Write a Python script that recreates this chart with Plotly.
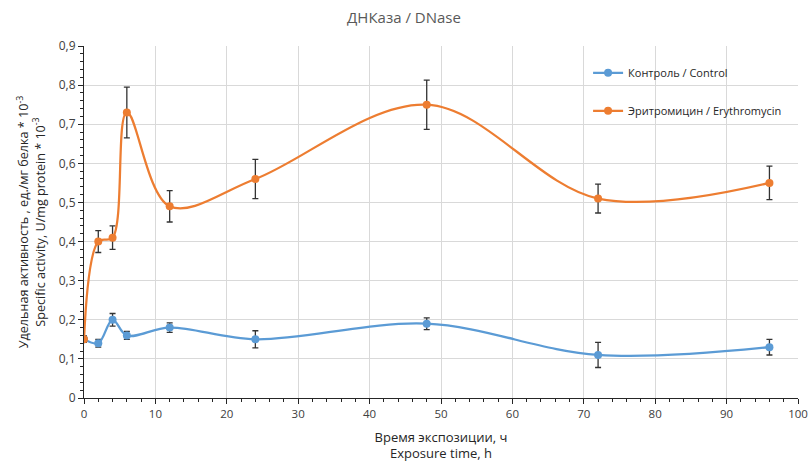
import plotly.graph_objects as go

hours = [0, 2, 4, 6, 12, 24, 48, 72, 96]
control = [0.15, 0.14, 0.20, 0.16, 0.18, 0.15, 0.19, 0.11, 0.13]
control_err = [0.008, 0.01, 0.016, 0.01, 0.012, 0.022, 0.015, 0.032, 0.02]
erythro = [0.15, 0.40, 0.41, 0.73, 0.49, 0.56, 0.75, 0.51, 0.55]
erythro_err = [0.008, 0.028, 0.03, 0.065, 0.04, 0.05, 0.063, 0.037, 0.043]
y_ticks = [0, 0.1, 0.2, 0.3, 0.4, 0.5, 0.6, 0.7, 0.8, 0.9]
y_labels = ["0", "0,1", "0,2", "0,3", "0,4", "0,5", "0,6", "0,7", "0,8", "0,9"]

FONT = "Open Sans"
fig = go.Figure()
for name, ys, err, col, grp in [
    ("Контроль / Control", control, control_err, "#5B9BD5", "a"),
    ("Эритромицин / Erythromycin", erythro, erythro_err, "#ED7D31", "b"),
]:
    fig.add_trace(go.Scatter(
        x=hours, y=ys, name=name, mode="lines+markers", legendgroup=grp,
        line=dict(color=col, width=2.25, shape="spline", smoothing=1.0),
        marker=dict(color=col, size=8),
        error_y=dict(type="data", array=err, visible=True, color="#333333", thickness=1.3, width=3),
    ))

fig.update_layout(
    width=808, height=464,
    margin=dict(l=84, r=10, t=46, b=66, autoexpand=False),
    paper_bgcolor="white", plot_bgcolor="white",
    font=dict(family=FONT, size=12, color="#404040"),
    title=dict(text="ДНКаза / DNase", x=0.5, xanchor="center", y=0.961, yanchor="middle",
               automargin=False, font=dict(family=FONT, size=15, color="#595959")),
    legend=dict(x=0.706, y=0.965, xanchor="left", yanchor="top", bgcolor="rgba(0,0,0,0)",
                traceorder="grouped", tracegroupgap=19, font=dict(family=FONT, size=11, color="#262626")),
    separators=", ",
)
fig.update_xaxes(range=[0, 100], dtick=10, showgrid=True, gridcolor="#D9D9D9", gridwidth=1,
                 showline=True, linecolor="#262626", linewidth=1.2, ticks="outside", ticklen=5,
                 tickcolor="#262626", zeroline=False, automargin=False, ticklabeloverflow="allow",
                 minor=dict(dtick=2, ticks="outside", ticklen=3, tickcolor="#262626", showgrid=False),
                 title=dict(text="Время экспозиции, ч<br>Exposure time, h", standoff=12,
                            font=dict(family=FONT, size=13, color="#262626")),
                 tickfont=dict(size=11.5, color="#404040"))
fig.update_yaxes(range=[0, 0.9], tickvals=y_ticks, ticktext=y_labels, showgrid=True,
                 gridcolor="#D9D9D9", gridwidth=1, showline=True, linecolor="#262626", linewidth=1.2,
                 ticks="outside", ticklen=5, tickcolor="#262626", zeroline=False, automargin=False,
                 minor=dict(dtick=0.02, ticks="outside", ticklen=3, tickcolor="#262626", showgrid=False),
                 title=dict(text="Удельная активность , ед./мг белка * 10<sup>-3</sup><br>Specific activity, U/mg protein * 10<sup>-3</sup>",
                            standoff=10, font=dict(family=FONT, size=12.6, color="#262626")),
                 tickfont=dict(size=12, color="#404040"))

fig.write_html(
    "out.html",
    config={"displayModeBar": False},
    post_script="document.body.style.margin='0';document.documentElement.style.overflow='hidden';",
)
